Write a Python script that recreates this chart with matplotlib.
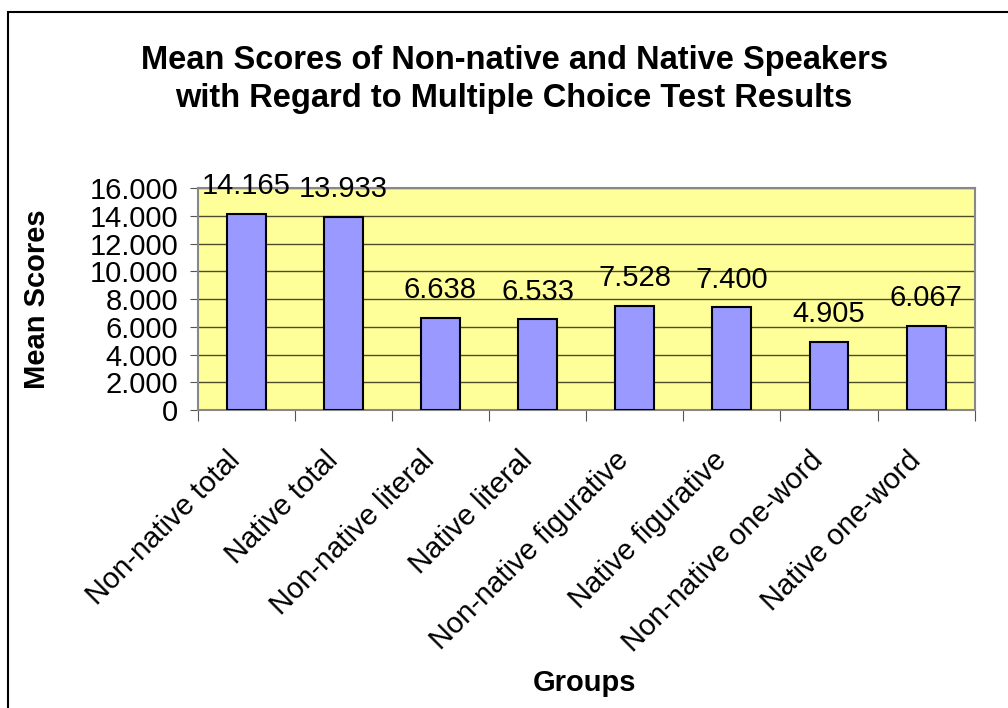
import matplotlib.pyplot as plt
from matplotlib.patches import Rectangle
from matplotlib.ticker import FixedLocator
from matplotlib.transforms import ScaledTranslation

# chart data
groups = ['Non-native total', 'Native total', 'Non-native literal', 'Native literal',
          'Non-native figurative', 'Native figurative', 'Non-native one-word', 'Native one-word']
means = [14.165, 13.933, 6.638, 6.533, 7.528, 7.400, 4.905, 6.067]
ytick_vals = [0, 2000, 4000, 6000, 8000, 10000, 12000, 14000, 16000]
ytick_labels = ['0', '2.000', '4.000', '6.000', '8.000', '10.000', '12.000', '14.000', '16.000']

plt.rcParams['font.family'] = ['Liberation Sans', 'DejaVu Sans']

fig = plt.figure(figsize=(10.08, 7.08), dpi=100)
ax = fig.add_axes([0.196, 0.421, 0.771, 0.313])

# outer chart border
fig.patches.append(Rectangle((8 / 1008, -0.01), 1.0, 1 - 12 / 708 + 0.01,
                             transform=fig.transFigure, fill=False,
                             edgecolor='black', linewidth=1.5))

x = range(len(groups))
vals = [m * 1000 for m in means]
ax.set_facecolor('#ffff99')
ax.bar(x, vals, width=0.4, color='#9999ff', edgecolor='black', linewidth=1.5, zorder=3)

for xi, v, m in zip(x, vals, means):
    ax.annotate('%.3f' % m, (xi, v), xytext=(0, 10), textcoords='offset points',
                ha='center', va='bottom', fontsize=21)

ax.set_ylim(0, 16000)
ax.set_xlim(-0.5, len(groups) - 0.5)
ax.set_yticks(ytick_vals)
ax.set_yticklabels(ytick_labels, fontsize=21)
ax.yaxis.grid(True, color='black', linewidth=1, alpha=0.7)
ax.set_axisbelow(True)

# tick marks between categories, labels at category centers
ax.xaxis.set_major_locator(FixedLocator([i - 0.5 for i in range(len(groups) + 1)]))
ax.set_xticklabels([''] * (len(groups) + 1))
ax.xaxis.set_minor_locator(FixedLocator(list(x)))
ax.set_xticklabels(groups, minor=True, rotation=45, ha='right', va='center',
                   rotation_mode='anchor', fontsize=21)
ax.tick_params(axis='x', which='minor', length=0, pad=33)
ax.tick_params(axis='x', which='major', length=8, color='#555555')
ax.tick_params(axis='y', length=6, color='#555555', pad=8)
# nudge the slanted labels a little to the left
shift = ScaledTranslation(-10 / 100, 0, fig.dpi_scale_trans)
for lbl in ax.get_xticklabels(minor=True):
    lbl.set_transform(lbl.get_transform() + shift)

for s in ax.spines.values():
    s.set_color('#888888')
    s.set_linewidth(1.5)

ax.set_ylabel('Mean Scores', fontsize=21, fontweight='bold')
ax.yaxis.set_label_coords(-0.188, 0.5)
ax.set_xlabel('Groups', fontsize=21, fontweight='bold')
ax.xaxis.set_label_coords(0.498, -1.17)
fig.text(0.51, 0.888, 'Mean Scores of Non-native and Native Speakers\nwith Regard to Multiple Choice Test Results',
         ha='center', va='center', fontsize=23.5, fontweight='bold', linespacing=1.3)

fig.savefig('out.png', dpi=100)
